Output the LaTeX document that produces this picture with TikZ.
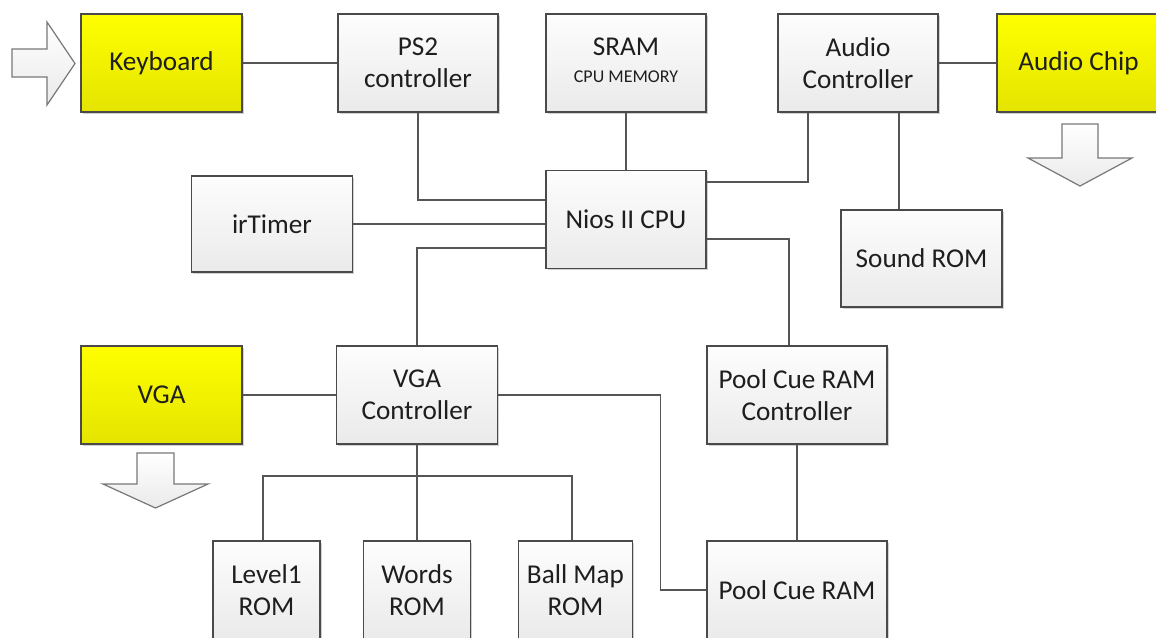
\documentclass[tikz,border=0pt]{standalone}
\usepackage{fontspec}
\setmainfont{Carlito}
\usetikzlibrary{calc,shadows}
\definecolor{boxtop}{RGB}{253,253,253}
\definecolor{boxbot}{RGB}{234,234,234}
\definecolor{ytop}{RGB}{255,255,0}
\definecolor{ybot}{RGB}{228,228,0}
\definecolor{edge}{RGB}{74,74,74}
\definecolor{wire}{RGB}{85,85,85}
\definecolor{txt}{RGB}{30,30,30}
\definecolor{arredge}{RGB}{120,120,120}
\tikzset{
  blk/.style={draw=edge, line width=1pt, top color=boxtop, bottom color=boxbot,
    inner sep=0pt, align=center, text=txt,
    font=\fontsize{20.4}{24}\selectfont,
    minimum width=120pt, minimum height=73.5pt,
    drop shadow={shadow xshift=1.2pt, shadow yshift=-1.2pt, opacity=0.18, fill=black}},
  ylw/.style={blk, top color=ytop, bottom color=ybot},
  conn/.style={draw=wire, line width=1pt},
  bigarrow/.style={draw=arredge, line width=0.9pt, top color=white, bottom color=boxbot, line join=miter}
}
\begin{document}
\begin{tikzpicture}[x=0.75pt,y=-0.75pt]
\useasboundingbox (0,0) rectangle (1156,637);
\clip (0,0) rectangle (1156,637);
\fill[white] (0,0) rectangle (1156,637);

% block arrows
\path[bigarrow] (12,49) -- (47,49) -- (47,22) -- (75,63.5) -- (47,105) -- (47,77) -- (12,77) -- cycle;
\path[bigarrow] (1062,124) -- (1098,124) -- (1098,158) -- (1132,158) -- (1080,186) -- (1028,158) -- (1062,158) -- cycle;
\path[bigarrow] (137,453) -- (174,453) -- (174,484) -- (208,484) -- (155.5,508) -- (103,484) -- (137,484) -- cycle;

% nodes
\node[ylw, minimum width=120.75pt] (kb) at (161.5,63) {Keyboard};
\node[blk] (ps2) at (418,63) {PS2\\controller};
\node[blk] (sram) at (626,63) {};
\node[txt, font=\fontsize{20.4}{24}\selectfont] (sramt) at (626,47) {SRAM};
\node[txt, font=\fontsize{13.5}{15}\selectfont] (sramm) at (626,77) {CPU MEMORY};
\node[blk] (audioc) at (858,63) {Audio\\Controller};
\node[ylw, minimum width=122.25pt] (chip) at (1078.5,63) {Audio Chip};
\node[blk] (nios) at (626,219.5) {Nios II CPU};
\node[blk, minimum width=120.75pt, minimum height=72pt] (timer) at (272,224) {irTimer};
\node[blk, minimum width=120.75pt, minimum height=72.75pt] (sound) at (921.5,258.5) {Sound ROM};
\node[ylw, minimum width=120.75pt] (vga) at (161.5,395) {VGA};
\node[blk, minimum width=120.75pt] (vgac) at (417,395) {VGA\\Controller};
\node[blk, minimum width=135pt] (pcc) at (797,395) {Pool Cue RAM\\Controller};
\node[blk, minimum width=80.25pt] (l1) at (266.5,590) {Level1\\ROM};
\node[blk, minimum width=80.25pt] (words) at (417,590) {Words\\ROM};
\node[blk, minimum width=85.5pt] (ball) at (575.5,590) {Ball Map\\ROM};
\node[blk, minimum width=135pt] (pcr) at (797,590) {Pool Cue RAM};

% connectors
\draw[conn] (kb.east) -- (ps2.west);
\draw[conn] (ps2.south) |- ($(nios.west)+(0,-19.5)$);
\draw[conn] (sram.south) -- (nios.north);
\coordinate (acL) at ($(audioc.south)+(-50,0)$);
\draw[conn] (acL) |- ($(nios.east)+(0,-37.5)$);
\draw[conn] (audioc.east) -- (chip.west);
\coordinate (acR) at ($(audioc.south)+(41,0)$);
\draw[conn] (acR) -- (acR |- sound.north);
\draw[conn] (timer.east) -- (timer.east -| nios.west);
\draw[conn] ($(nios.west)+(0,28.5)$) -| (vgac.north);
\coordinate (pccTop) at ($(pcc.north)+(-8,0)$);
\draw[conn] ($(nios.east)+(0,19.5)$) -| (pccTop);
\draw[conn] (vga.east) -- (vgac.west);
\coordinate (vgaR) at ($(vgac.east)+(162,0)$);
\draw[conn] (vgac.east) -- (vgaR) |- (pcr.west);
\draw[conn] (vgac.south) -- (words.north);
\coordinate (busL) at (263,476);
\coordinate (busR) at (572,476);
\draw[conn] (busL |- l1.north) -- (busL) -- (busR) -- (busR |- ball.north);
\draw[conn] (pcc.south) -- (pcr.north);
\end{tikzpicture}
\end{document}
